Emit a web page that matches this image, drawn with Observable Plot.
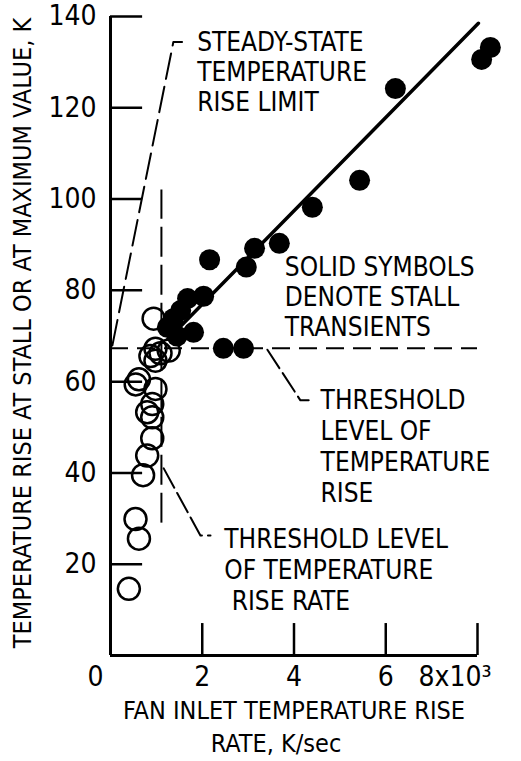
<!DOCTYPE html>
<html><head><meta charset="utf-8">
<script src="https://cdn.jsdelivr.net/npm/d3@7"></script>
<script src="https://cdn.jsdelivr.net/npm/@observablehq/plot@0.6"></script>
<style>
html,body{margin:0;padding:0;background:#fff;}
</style>
</head><body><div id="chart"></div>
<script>
// Solid symbols: stall transients (x in 10^3 K/sec, y in K)
const stallX = [8.28, 8.09, 6.21, 5.43, 4.40, 3.68, 3.14, 2.96, 2.16, 2.03, 1.68, 1.53, 1.37, 1.24, 1.81, 1.45, 2.46, 2.90];
const stallY = [133.2, 130.6, 124.2, 104.1, 98.2, 90.3, 89.2, 85.1, 86.7, 78.7, 78.2, 75.6, 73.8, 71.9, 70.8, 70.0, 67.3, 67.3];
// Open symbols
const openX = [0.94, 0.98, 1.27, 0.87, 0.98, 1.09, 0.62, 0.55, 0.98, 0.91, 0.80, 0.91, 0.91, 0.80, 0.71, 0.545, 0.62, 0.40];
const openY = [73.8, 67.2, 66.8, 65.6, 64.6, 66.2, 60.5, 59.4, 58.4, 55.1, 53.3, 52.2, 47.6, 43.8, 39.5, 29.9, 25.6, 14.6];
// Fitted line through stall points
const fitX = [1.25, 8.02];
const fitY = [69.3, 138.5];
// Threshold levels
const thresholdTemp = 67.3;
const thresholdRate = 1.11;
const thresholdRateSpan = [29, 102];
// Steady-state temperature rise limit (with its label hook)
const limitX = [0.04, 1.37, 1.56];
const limitY = [67.9, 134.4, 134.4];
// Label leaders
const leaderTempX = [3.42, 4.14, 4.32];
const leaderTempY = [67.0, 55.9, 55.9];
const leaderRateX = [1.16, 1.96, 2.18];
const leaderRateY = [41.0, 26.3, 26.3];
// Ticks
const xTicks = [0, 2, 4, 6, 8];
const xTickLabels = ["0", "2", "4", "6", "8x10³"];
const yTicks = [20, 40, 60, 80, 100, 120, 140];
const yTickLabels = ["20", "40", "60", "80", "100", "120", "140"];

const FONT = '"Liberation Sans Narrow","DejaVu Sans Condensed","Roboto Condensed","Arial Narrow","Liberation Sans",sans-serif';

const stall = stallX.map((x, i) => ({x, y: stallY[i]}));
const open = openX.map((x, i) => ({x, y: openY[i]}));
const fit = fitX.map((x, i) => ({x, y: fitY[i]}));
const limit = limitX.map((x, i) => ({x, y: limitY[i]}));
const leaderTemp = leaderTempX.map((x, i) => ({x, y: leaderTempY[i]}));
const leaderRate = leaderRateX.map((x, i) => ({x, y: leaderRateY[i]}));
const xt = xTicks.map((x, i) => ({x, label: xTickLabels[i]}));
const yt = yTicks.map((y, i) => ({y, label: yTickLabels[i]}));

const chart = Plot.plot({
  width: 521,
  height: 761,
  marginLeft: 110,
  marginRight: 44,
  marginTop: 16,
  marginBottom: 106,
  x: {domain: [0, 8], axis: null},
  y: {domain: [0, 140], axis: null},
  style: {fontFamily: FONT, fontSize: "26px", background: "#fff", color: "#000"},
  marks: [
    // axes
    Plot.ruleX([0], {y1: 0, y2: 140, stroke: "#000", strokeWidth: 3}),
    Plot.ruleY([0], {x1: 0, x2: 8, stroke: "#000", strokeWidth: 3}),
    Plot.ruleY(yt, {y: "y", x1: 0, x2: 0.7, stroke: "#000", strokeWidth: 2.5}),
    Plot.ruleX(xt.filter(d => d.x > 0), {x: "x", y1: 0, y2: 7, stroke: "#000", strokeWidth: 2.5}),
    Plot.text(yt, {x: 0, y: "y", text: "label", textAnchor: "end", dx: -14, fontSize: 28}),
    Plot.text(xt.filter(d => d.x > 0 && d.x < 8), {x: "x", y: 0, text: "label", dy: 22, fontSize: 28}),
    Plot.text(xt.filter(d => d.x === 0), {x: "x", y: 0, text: "label", dy: 22, dx: -15, fontSize: 28}),
    Plot.text(xt.filter(d => d.x === 8), {x: "x", y: 0, text: "label", dy: 22, dx: -59, textAnchor: "start", fontSize: 28}),
    // axis titles
    Plot.text(["FAN INLET TEMPERATURE RISE"], {frameAnchor: "bottom", lineAnchor: "middle", textAnchor: "middle", dy: 55, fontSize: 25}),
    Plot.text(["RATE, K/sec"], {frameAnchor: "bottom", lineAnchor: "middle", textAnchor: "middle", dy: 88, dx: -18, fontSize: 25}),
    Plot.text(["TEMPERATURE RISE AT STALL OR AT MAXIMUM VALUE, K"], {frameAnchor: "left", textAnchor: "middle", lineAnchor: "middle", rotate: -90, dx: -88, dy: -3, fontSize: 25}),
    // threshold lines
    Plot.ruleY([thresholdTemp], {x1: 0, x2: 8, stroke: "#000", strokeWidth: 2, strokeDasharray: "18,9"}),
    Plot.ruleX([thresholdRate], {y1: thresholdRateSpan[0], y2: thresholdRateSpan[1], stroke: "#000", strokeWidth: 2, strokeDasharray: "30,8"}),
    Plot.line(limit, {x: "x", y: "y", stroke: "#000", strokeWidth: 2, strokeDasharray: "26,8"}),
    Plot.line(leaderTemp, {x: "x", y: "y", stroke: "#000", strokeWidth: 2, strokeDasharray: "22,6"}),
    Plot.line(leaderRate, {x: "x", y: "y", stroke: "#000", strokeWidth: 2, strokeDasharray: "22,6"}),
    // fit line
    Plot.line(fit, {x: "x", y: "y", stroke: "#000", strokeWidth: 3.5}),
    // symbols
    Plot.dot(open, {x: "x", y: "y", r: 11, stroke: "#000", strokeWidth: 2.5, fill: "none"}),
    Plot.dot(stall, {x: "x", y: "y", r: 10.5, fill: "#000", stroke: "none"}),
    // annotations
    Plot.text(["STEADY-STATE\nTEMPERATURE\nRISE LIMIT"], {x: 1.89, y: 127.9, textAnchor: "start", lineHeight: 1.15, fontSize: 26}),
    Plot.text(["SOLID SYMBOLS\nDENOTE STALL\nTRANSIENTS"], {x: 3.80, y: 78.6, textAnchor: "start", lineHeight: 1.15, fontSize: 26}),
    Plot.text(["THRESHOLD\nLEVEL OF\nTEMPERATURE\nRISE"], {x: 4.58, y: 46.0, textAnchor: "start", lineHeight: 1.2, fontSize: 26}),
    Plot.text(["THRESHOLD LEVEL\nOF TEMPERATURE\n RISE RATE"], {x: 2.48, y: 18.95, textAnchor: "start", lineHeight: 1.2, fontSize: 26})
  ]
});
document.getElementById("chart").appendChild(chart);
</script>
</body></html>
